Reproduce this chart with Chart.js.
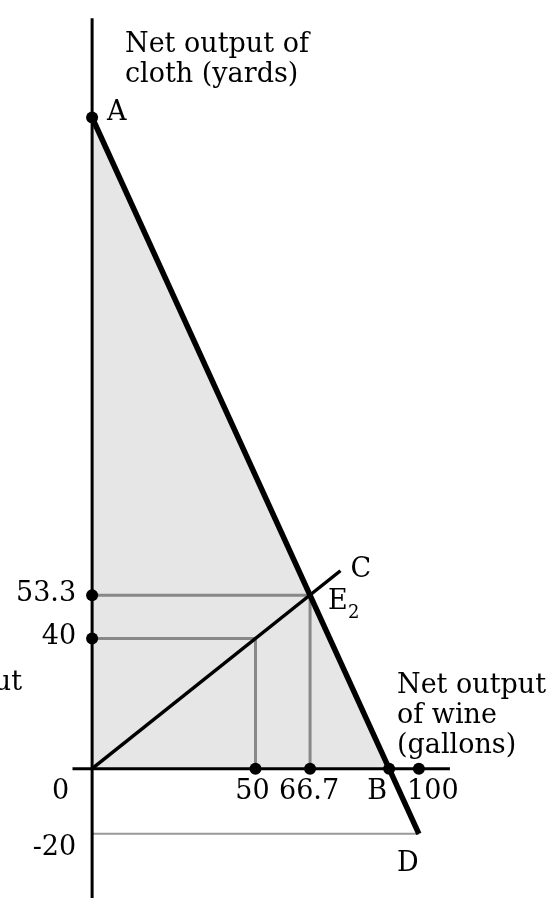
<!DOCTYPE html>
<html>
<head>
<meta charset="utf-8">
<script src="https://cdn.jsdelivr.net/npm/chart.js@4/dist/chart.umd.min.js"></script>
<style>
  html, body { margin: 0; padding: 0; background: #fff; }
  #wrap { width: 555px; height: 904px; position: relative; }
</style>
</head>
<body>
<div id="wrap"><canvas id="chart"></canvas></div>
<script>
// frontier A -> D, and the shaded part A -> B above the axis
const frontierX = [0, 100];
const frontierY = [200, -20];
const shadeX = [0, 90.9];
const shadeY = [200, 0];

// ray from the origin through E2 to C
const rayX = [0, 76];
const rayY = [0, 60.8];

// guide lines
const guideE2X = [0, 66.7, 66.7];
const guideE2Y = [53.3, 53.3, 0];
const guide40X = [0, 50, 50];
const guide40Y = [40, 40, 0];
const guideDX = [0, 100];
const guideDY = [-20, -20];

// axes
const axisXRange = [-6, 109.5];
const axisYRange = [230.5, -40];

// dots
const dotX = [0, 0, 0, 50, 66.7, 90.9, 100];
const dotY = [200, 53.3, 40, 0, 0, 0, 0];

// tick labels
const xTickValues = [0, 50, 66.7, 100];
const xTickLabels = ["0", "50", "66.7", "100"];
const yTickValues = [53.3, 40, -20];
const yTickLabels = ["53.3", "40", "-20"];

const pts = (xs, ys) => xs.map((x, i) => ({ x: x, y: ys[i] }));

const FONT = '27px "DejaVu Serif"';

const labelPlugin = {
  id: "labels",
  afterDatasetsDraw(chart) {
    const ctx = chart.ctx;
    const xs = chart.scales.x, ys = chart.scales.y;
    const px = v => xs.getPixelForValue(v);
    const py = v => ys.getPixelForValue(v);
    ctx.save();
    ctx.fillStyle = "#000";
    ctx.font = FONT;
    ctx.textBaseline = "alphabetic";

    // x tick labels
    const xShift = [-23, -3, -1, 14];
    ctx.textAlign = "center";
    xTickValues.forEach((v, i) => {
      if (v === 0) {
        ctx.textAlign = "right";
        ctx.fillText(xTickLabels[i], px(v) - 23, py(0) + 30);
        ctx.textAlign = "center";
      } else {
        ctx.fillText(xTickLabels[i], px(v) + xShift[i], py(0) + 30);
      }
    });

    // y tick labels
    ctx.textAlign = "right";
    yTickValues.forEach((v, i) => {
      const off = v < 0 ? 21 : 6;
      ctx.fillText(yTickLabels[i], px(0) - 16, py(v) + off);
    });

    // clipped left label
    ctx.fillText("Net output", 22, 690);

    // point labels
    ctx.textAlign = "left";
    ctx.fillText("A", px(0) + 15, py(200) + 3);
    ctx.fillText("C", px(76) + 10, py(60.8) + 6);
    ctx.fillText("E", px(66.7) + 18, py(53.3) + 14);
    ctx.font = '18px "DejaVu Serif"';
    ctx.fillText("2", px(66.7) + 38, py(53.3) + 23);
    ctx.font = FONT;
    ctx.textAlign = "center";
    ctx.fillText("B", px(90.9) - 12, py(0) + 30);
    ctx.fillText("D", px(100) - 11, py(-20) + 37);

    // axis titles
    ctx.textAlign = "left";
    ctx.fillText("Net output of", 125, 52);
    ctx.fillText("cloth (yards)", 125, 82);
    ctx.fillText("Net output", 397, 693);
    ctx.fillText("of wine", 397, 723);
    ctx.fillText("(gallons)", 397, 753);
    ctx.restore();
  }
};

const line = (data, color, width, order, extra) => Object.assign({
  data: data,
  showLine: true,
  borderColor: color,
  borderWidth: width,
  pointRadius: 0,
  fill: false,
  order: order
}, extra || {});

new Chart(document.getElementById("chart"), {
  type: "scatter",
  data: {
    datasets: [
      {
        data: pts(dotX, dotY),
        backgroundColor: "#000",
        borderWidth: 0,
        pointRadius: 6,
        order: 0
      },
      line(pts(frontierX, frontierY), "#000", 5.5, 1),
      line(pts(rayX, rayY), "#000", 3.5, 2),
      line(pts([0, 0], axisYRange), "#000", 3, 3),
      line(pts(axisXRange, [0, 0]), "#000", 3, 3),
      line(pts(guideE2X, guideE2Y), "#888", 3, 4),
      line(pts(guide40X, guide40Y), "#888", 3, 4),
      line(pts(guideDX, guideDY), "#999", 2, 4),
      line(pts(shadeX, shadeY), "rgba(0,0,0,0)", 0, 9, {
        fill: "origin",
        backgroundColor: "#e6e6e6"
      })
    ]
  },
  options: {
    responsive: true,
    maintainAspectRatio: false,
    animation: false,
    layout: { padding: 0 },
    plugins: {
      legend: { display: false },
      tooltip: { enabled: false }
    },
    scales: {
      x: { type: "linear", display: false, min: -26.35, max: 139.82 },
      y: { type: "linear", display: false, min: -39.7, max: 234.24 }
    }
  },
  plugins: [labelPlugin]
});
</script>
</body>
</html>
